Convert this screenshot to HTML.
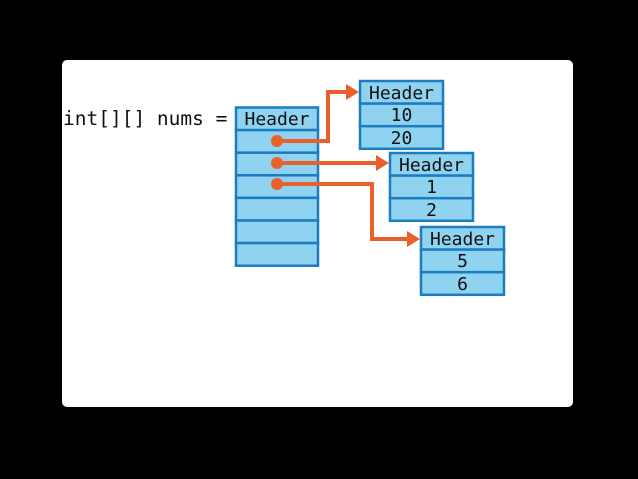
<!DOCTYPE html>
<html><head><style>
html,body{margin:0;padding:0;background:#000;width:638px;height:479px;overflow:hidden}
svg{display:block}
text{font-family:"DejaVu Sans Mono","Liberation Mono",monospace;font-size:18px;fill:#111}
</style></head><body>
<svg width="638" height="479" viewBox="0 0 638 479">
<rect x="0" y="0" width="638" height="479" fill="#000"/>
<rect x="62" y="60" width="511" height="347" rx="5" fill="#fff"/>
<text x="63" y="125" style="font-size:19.5px">int[][] nums =</text>
<g fill="#8fd3f1" stroke="#1b7cbf" stroke-width="2.5">
<rect x="236" y="107.5" width="82" height="22.6"/>
<rect x="236" y="130.1" width="82" height="22.6"/>
<rect x="236" y="152.7" width="82" height="22.6"/>
<rect x="236" y="175.3" width="82" height="22.6"/>
<rect x="236" y="197.9" width="82" height="22.6"/>
<rect x="236" y="220.5" width="82" height="22.6"/>
<rect x="236" y="243.1" width="82" height="22.6"/>
<rect x="360" y="81" width="83" height="22.6"/>
<rect x="360" y="103.6" width="83" height="22.6"/>
<rect x="360" y="126.2" width="83" height="22.6"/>
<rect x="390" y="153" width="83" height="22.6"/>
<rect x="390" y="175.6" width="83" height="22.6"/>
<rect x="390" y="198.2" width="83" height="22.6"/>
<rect x="421" y="227" width="83" height="22.6"/>
<rect x="421" y="249.6" width="83" height="22.6"/>
<rect x="421" y="272.2" width="83" height="22.6"/>
</g>
<g text-anchor="middle">
<text x="277" y="125">Header</text>
<text x="401.5" y="99">Header</text>
<text x="401.5" y="121">10</text>
<text x="401.5" y="144">20</text>
<text x="431.5" y="171">Header</text>
<text x="431.5" y="193">1</text>
<text x="431.5" y="216">2</text>
<text x="462.5" y="245">Header</text>
<text x="462.5" y="267">5</text>
<text x="462.5" y="290">6</text>
</g>
<g stroke="#e9602b" stroke-width="4" fill="none">
<polyline points="277,141 328,141 328,92 348,92"/>
<polyline points="277,163 378,163"/>
<polyline points="277,184 372,184 372,239 409,239"/>
</g>
<g fill="#e9602b">
<circle cx="277" cy="141" r="6"/>
<circle cx="277" cy="163" r="6"/>
<circle cx="277" cy="184" r="6"/>
<polygon points="346,84 359,92 346,100"/>
<polygon points="376,155 389,163 376,171"/>
<polygon points="407,231 420,239 407,247"/>
</g>
</svg>
</body></html>
